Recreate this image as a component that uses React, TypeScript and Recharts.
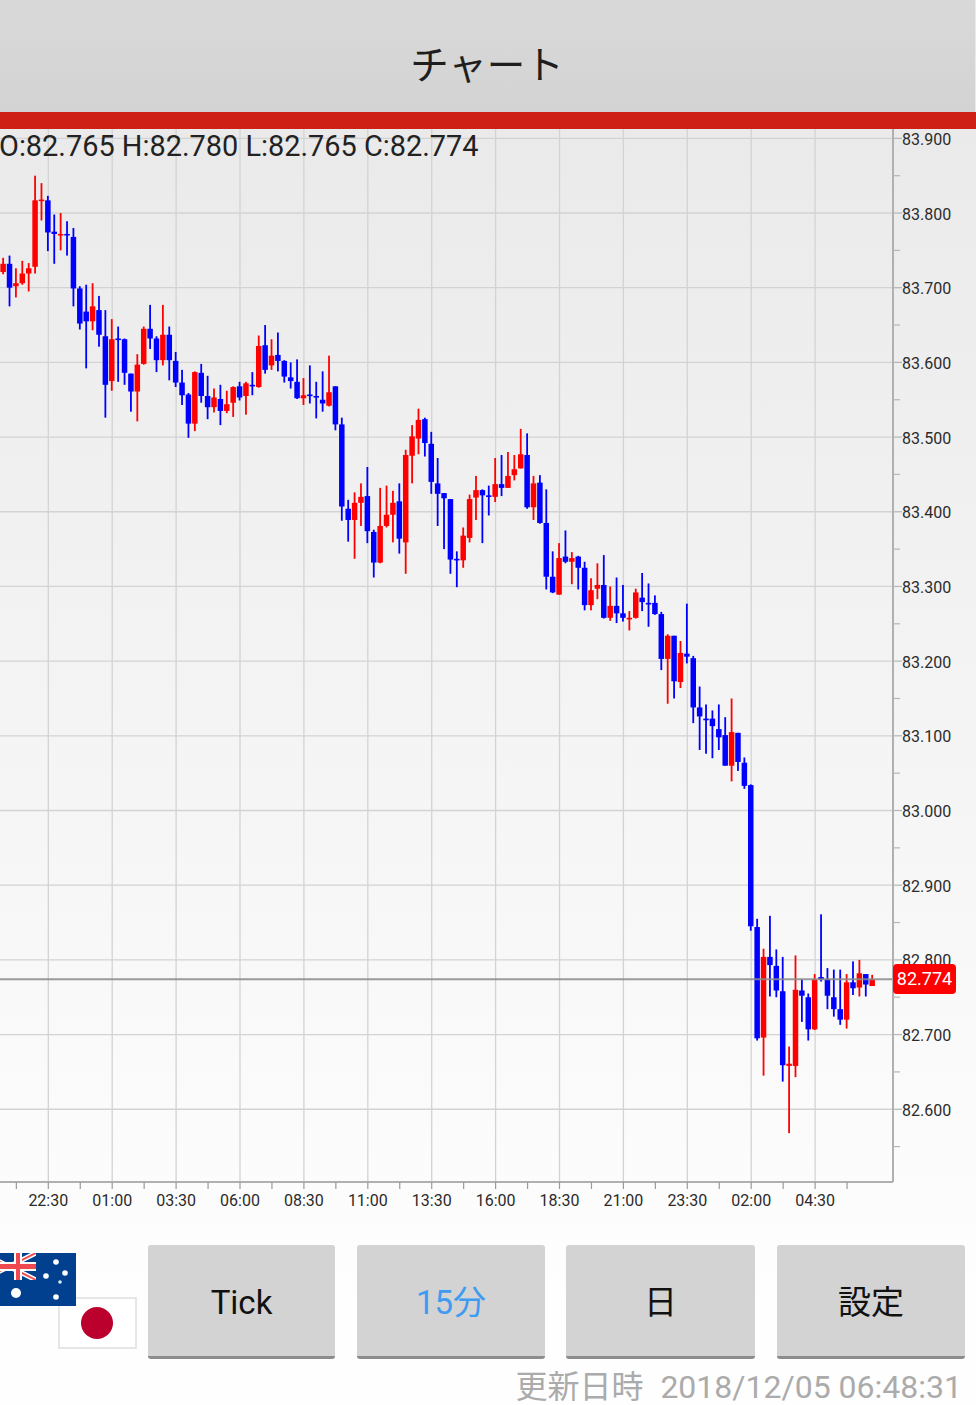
import { Bar, CartesianGrid, ComposedChart, ReferenceLine, XAxis, YAxis } from "recharts";

const opens = [
  83.721, 83.732, 83.702, 83.706, 83.719, 83.728, 83.816, 83.817, 83.775, 83.771,
  83.772, 83.768, 83.699, 83.668, 83.655, 83.670, 83.635, 83.575, 83.632, 83.631,
  83.585, 83.561, 83.598, 83.645, 83.632, 83.603, 83.637, 83.602, 83.573, 83.557,
  83.518, 83.586, 83.555, 83.540, 83.551, 83.535, 83.546, 83.568, 83.555, 83.570,
  83.567, 83.623, 83.596, 83.610, 83.602, 83.580, 83.574, 83.552, 83.557, 83.555,
  83.550, 83.542, 83.568, 83.517, 83.404, 83.389, 83.412, 83.421, 83.373, 83.332,
  83.381, 83.396, 83.414, 83.359, 83.475, 83.498, 83.524, 83.491, 83.438, 83.425,
  83.417, 83.337, 83.335, 83.365, 83.419, 83.429, 83.422, 83.420, 83.437, 83.432,
  83.449, 83.458, 83.476, 83.406, 83.439, 83.385, 83.313, 83.289, 83.340, 83.333,
  83.340, 83.325, 83.275, 83.297, 83.302, 83.258, 83.274, 83.264, 83.256, 83.258,
  83.285, 83.278, 83.278, 83.263, 83.203, 83.234, 83.172, 83.210, 83.204, 83.138,
  83.123, 83.123, 83.109, 83.101, 83.060, 83.104, 83.064, 83.034, 82.844, 82.696,
  82.804, 82.792, 82.758, 82.658, 82.658, 82.759, 82.750, 82.707, 82.777, 82.774,
  82.750, 82.734, 82.720, 82.770, 82.763, 82.781, 82.765,
];
const highs = [
  83.740, 83.743, 83.726, 83.736, 83.733, 83.850, 83.840, 83.823, 83.798, 83.800,
  83.789, 83.780, 83.702, 83.704, 83.706, 83.689, 83.670, 83.658, 83.648, 83.632,
  83.585, 83.611, 83.648, 83.677, 83.635, 83.677, 83.648, 83.614, 83.590, 83.559,
  83.588, 83.598, 83.582, 83.565, 83.570, 83.562, 83.568, 83.574, 83.574, 83.587,
  83.636, 83.650, 83.631, 83.640, 83.603, 83.600, 83.604, 83.579, 83.596, 83.574,
  83.588, 83.609, 83.568, 83.526, 83.416, 83.426, 83.438, 83.460, 83.376, 83.432,
  83.435, 83.428, 83.438, 83.483, 83.516, 83.538, 83.526, 83.507, 83.472, 83.425,
  83.417, 83.347, 83.379, 83.423, 83.448, 83.430, 83.435, 83.472, 83.476, 83.480,
  83.476, 83.511, 83.505, 83.448, 83.449, 83.430, 83.347, 83.358, 83.375, 83.346,
  83.341, 83.333, 83.311, 83.331, 83.342, 83.300, 83.312, 83.302, 83.267, 83.297,
  83.318, 83.304, 83.288, 83.266, 83.236, 83.234, 83.227, 83.277, 83.207, 83.166,
  83.142, 83.134, 83.142, 83.125, 83.150, 83.104, 83.071, 83.035, 82.855, 82.815,
  82.859, 82.814, 82.804, 82.684, 82.806, 82.774, 82.755, 82.781, 82.861, 82.789,
  82.787, 82.787, 82.781, 82.798, 82.800, 82.781, 82.780,
];
const lows = [
  83.718, 83.675, 83.687, 83.704, 83.695, 83.719, 83.790, 83.749, 83.732, 83.750,
  83.743, 83.675, 83.644, 83.592, 83.643, 83.621, 83.526, 83.562, 83.574, 83.570,
  83.534, 83.521, 83.597, 83.618, 83.587, 83.596, 83.576, 83.567, 83.543, 83.499,
  83.508, 83.546, 83.524, 83.533, 83.516, 83.532, 83.527, 83.549, 83.530, 83.556,
  83.566, 83.585, 83.590, 83.588, 83.573, 83.565, 83.551, 83.543, 83.545, 83.525,
  83.534, 83.541, 83.509, 83.388, 83.360, 83.337, 83.381, 83.358, 83.312, 83.331,
  83.379, 83.359, 83.344, 83.317, 83.438, 83.477, 83.474, 83.424, 83.381, 83.350,
  83.317, 83.299, 83.325, 83.359, 83.389, 83.358, 83.395, 83.413, 83.421, 83.432,
  83.442, 83.458, 83.404, 83.389, 83.384, 83.296, 83.291, 83.289, 83.331, 83.303,
  83.296, 83.268, 83.268, 83.283, 83.257, 83.254, 83.251, 83.253, 83.241, 83.257,
  83.267, 83.246, 83.262, 83.188, 83.143, 83.150, 83.164, 83.197, 83.117, 83.081,
  83.076, 83.070, 83.081, 83.060, 83.039, 83.053, 83.029, 82.839, 82.692, 82.645,
  82.751, 82.750, 82.637, 82.568, 82.643, 82.717, 82.692, 82.706, 82.771, 82.734,
  82.724, 82.713, 82.708, 82.753, 82.751, 82.751, 82.765,
];
const closes = [
  83.732, 83.700, 83.706, 83.719, 83.726, 83.817, 83.818, 83.774, 83.772, 83.772,
  83.770, 83.699, 83.652, 83.655, 83.675, 83.637, 83.570, 83.631, 83.631, 83.586,
  83.561, 83.597, 83.645, 83.632, 83.603, 83.637, 83.603, 83.573, 83.556, 83.518,
  83.587, 83.555, 83.540, 83.553, 83.535, 83.544, 83.567, 83.553, 83.572, 83.568,
  83.622, 83.590, 83.609, 83.602, 83.581, 83.575, 83.552, 83.556, 83.555, 83.553,
  83.545, 83.560, 83.517, 83.407, 83.389, 83.412, 83.420, 83.374, 83.332, 83.381,
  83.396, 83.412, 83.364, 83.476, 83.501, 83.523, 83.492, 83.440, 83.424, 83.418,
  83.336, 83.335, 83.368, 83.417, 83.429, 83.422, 83.421, 83.437, 83.432, 83.448,
  83.457, 83.477, 83.406, 83.438, 83.385, 83.313, 83.292, 83.338, 83.333, 83.338,
  83.325, 83.275, 83.295, 83.302, 83.258, 83.274, 83.264, 83.258, 83.258, 83.292,
  83.279, 83.277, 83.263, 83.203, 83.234, 83.173, 83.211, 83.206, 83.138, 83.126,
  83.122, 83.113, 83.098, 83.060, 83.105, 83.065, 83.033, 82.845, 82.695, 82.804,
  82.793, 82.759, 82.659, 82.661, 82.760, 82.752, 82.707, 82.774, 82.774, 82.752,
  82.734, 82.720, 82.770, 82.762, 82.782, 82.767, 82.774,
];

const timeLabels = [
  "22:30", "01:00", "03:30", "06:00", "08:30", "11:00", "13:30",
  "16:00", "18:30", "21:00", "23:30", "02:00", "04:30",
];
const timeIndexes = [7, 17, 27, 37, 47, 57, 67, 77, 87, 97, 107, 117, 127];
const minorTimeIndexes = [2, 12, 22, 32, 42, 52, 62, 72, 82, 92, 102, 112, 122, 132];
const priceTicks = [
  83.9, 83.8, 83.7, 83.6, 83.5, 83.4, 83.3, 83.2, 83.1, 83.0, 82.9, 82.8, 82.7, 82.6,
];
const minorPriceTicks = [
  83.85, 83.75, 83.65, 83.55, 83.45, 83.35, 83.25, 83.15, 83.05, 82.95, 82.85, 82.75, 82.65, 82.55,
];
const lastPrice = 82.774;

const data = opens.map((open, i) => ({
  i,
  open,
  high: highs[i],
  low: lows[i],
  close: closes[i],
  range: [lows[i], highs[i]],
}));

const UP = "#FF0000";
const DOWN = "#0000FF";
const UI_FONT = 'Roboto, "Noto Sans CJK JP", sans-serif';

// wick and body both come from the bar's own rectangle for low..high
function Candle(props: any) {
  const { x, y, width, height, payload } = props;
  if (!payload) return null;
  const { open, high, low, close } = payload;
  const color = close >= open ? UP : DOWN;
  const cx = x + width / 2;
  const top = Math.min(y, y + height);
  const perUnit = Math.abs(height) / (high - low);
  const bodyTop = top + (high - Math.max(open, close)) * perUnit;
  const bodyH = Math.max(Math.abs(open - close) * perUnit, 1.6);
  return (
    <g>
      <rect x={cx - 0.9} y={top} width={1.8} height={Math.abs(height)} fill={color} />
      <rect x={x} y={bodyTop} width={width} height={bodyH} fill={color} />
    </g>
  );
}

function TimeTick({ x, y, payload }: any) {
  const at = timeIndexes.indexOf(payload.value);
  return (
    <g>
      <line x1={x} x2={x} y1={y} y2={y + 7} stroke="#9A9A9A" strokeWidth={1.2} />
      {at >= 0 && (
        <text x={x} y={y + 24} textAnchor="middle" fontSize={16} fontFamily={UI_FONT} fill="#2B2B2B">
          {timeLabels[at]}
        </text>
      )}
    </g>
  );
}

function PriceTick({ x, y, payload }: any) {
  const major = priceTicks.includes(payload.value);
  return (
    <g>
      <line x1={x} x2={x + (major ? 9 : 7)} y1={y} y2={y} stroke="#B5B5B5" strokeWidth={1.2} />
      {major && (
        <text x={x + 9} y={y + 6.5} fontSize={16} fontFamily={UI_FONT} fill="#2B2B2B">
          {payload.value.toFixed(3)}
        </text>
      )}
    </g>
  );
}

function Button({ left, width, label, color }: any) {
  return (
    <div
      style={{
        position: "absolute",
        left,
        top: 1245,
        width,
        height: 114,
        boxSizing: "border-box",
        background: "#D3D3D3",
        borderRadius: 3,
        borderBottom: "3px solid #8C8C8C",
        color: color ?? "#111",
        fontFamily: UI_FONT,
        fontSize: 33,
        lineHeight: "116px",
        textAlign: "center",
      }}
    >
      {label}
    </div>
  );
}

function Flags() {
  return (
    <svg width={140} height={100} style={{ position: "absolute", left: 0, top: 1252 }}>
      <defs>
        <clipPath id="jack">
          <rect x={0} y={1} width={36} height={27} />
        </clipPath>
      </defs>
      <rect x={59} y={46} width={77} height={50} fill="#fff" stroke="#DEDEDE" strokeWidth={1.5} />
      <circle cx={97} cy={71} r={16} fill="#BC002D" />
      <rect x={0} y={1} width={76} height={53} fill="#00408F" />
      <g clipPath="url(#jack)">
        <line x1={-18} y1={1} x2={36} y2={28} stroke="#fff" strokeWidth={5} />
        <line x1={36} y1={1} x2={-18} y2={28} stroke="#fff" strokeWidth={5} />
        <line x1={-18} y1={1} x2={36} y2={28} stroke="#F04A50" strokeWidth={2} />
        <line x1={36} y1={1} x2={-18} y2={28} stroke="#F04A50" strokeWidth={2} />
        <rect x={14} y={1} width={8} height={27} fill="#fff" />
        <rect x={-2} y={10} width={38} height={9} fill="#fff" />
        <rect x={16} y={1} width={4} height={27} fill="#F04A50" />
        <rect x={-2} y={12} width={38} height={5} fill="#F04A50" />
      </g>
      <circle cx={16} cy={41} r={5} fill="#fff" />
      <circle cx={56} cy={10} r={2.8} fill="#fff" />
      <circle cx={65} cy={21} r={2.8} fill="#fff" />
      <circle cx={46} cy={24} r={2.8} fill="#fff" />
      <circle cx={60} cy={30} r={1.8} fill="#dfe8f5" />
      <circle cx={56} cy={45} r={2.8} fill="#fff" />
    </svg>
  );
}

export default function App() {
  return (
    <div
      style={{
        position: "absolute",
        left: 0,
        top: 0,
        width: 976,
        height: 1405,
        overflow: "hidden",
        background: "linear-gradient(180deg, #EAEAEA 129px, #FEFEFE 1300px)",
      }}
    >
      <div
        style={{
          position: "absolute",
          left: -1,
          top: 0,
          width: 976,
          height: 112,
          background: "linear-gradient(180deg, #D9D9D9, #D3D3D3)",
          textAlign: "center",
          fontFamily: '"Noto Sans CJK JP", sans-serif',
          fontSize: 38.5,
          lineHeight: "125px",
          color: "#1E1E1E",
        }}
      >
        チャート
      </div>
      <div style={{ position: "absolute", left: 0, top: 112, width: 976, height: 17, background: "#CF2016" }} />

      <div style={{ position: "absolute", left: 0, top: 0 }}>
        <ComposedChart
          width={976}
          height={1405}
          data={data}
          margin={{ top: 129, right: 0, bottom: 0, left: 0 }}
        >
          <CartesianGrid
            stroke="#D3D3D3"
            strokeWidth={1.3}
            horizontalValues={priceTicks}
            verticalValues={timeIndexes}
          />
          <XAxis
            type="number"
            dataKey="i"
            domain={[-0.56, 139.19]}
            ticks={[...minorTimeIndexes, ...timeIndexes].sort((a, b) => a - b)}
            interval={0}
            height={223}
            tickLine={false}
            tickSize={0}
            tickMargin={0}
            stroke="#B0B0B0"
            strokeWidth={2}
            tick={<TimeTick />}
          />
          <YAxis
            orientation="right"
            type="number"
            domain={[82.5026, 83.9125]}
            ticks={[...priceTicks, ...minorPriceTicks].sort((a, b) => b - a)}
            interval={0}
            width={83}
            tickLine={false}
            tickSize={0}
            tickMargin={0}
            stroke="#B0B0B0"
            strokeWidth={2}
            tick={<PriceTick />}
          />
          <Bar dataKey="range" barSize={5.5} shape={<Candle />} isAnimationActive={false} />
          <ReferenceLine y={lastPrice} stroke="#8A8A8A" strokeOpacity={0.85} strokeWidth={2} />
        </ComposedChart>
      </div>

      <div
        style={{
          position: "absolute",
          left: 893,
          top: 964,
          width: 63,
          height: 30,
          borderRadius: 4,
          background: "#FF0000",
          color: "#fff",
          fontFamily: UI_FONT,
          fontSize: 18,
          lineHeight: "30px",
          textAlign: "center",
        }}
      >
        {lastPrice.toFixed(3)}
      </div>

      <div
        style={{
          position: "absolute",
          left: -1,
          top: 129,
          fontFamily: UI_FONT,
          fontSize: 28.9,
          lineHeight: "35px",
          color: "#222",
          whiteSpace: "nowrap",
        }}
      >
        O:82.765 H:82.780 L:82.765 C:82.774
      </div>

      <Flags />
      <Button left={148} width={187} label="Tick" />
      <Button left={357} width={188} label="15分" color="#3F9BF0" />
      <Button left={566} width={189} label="日" />
      <Button left={777} width={188} label="設定" />

      <div
        style={{
          position: "absolute",
          right: 14,
          top: 1368,
          fontFamily: UI_FONT,
          fontSize: 32,
          lineHeight: "38px",
          color: "#ABABAB",
          whiteSpace: "nowrap",
        }}
      >
        <span style={{ marginRight: 9 }}>更新日時</span> 2018/12/05 06:48:31
      </div>
    </div>
  );
}
